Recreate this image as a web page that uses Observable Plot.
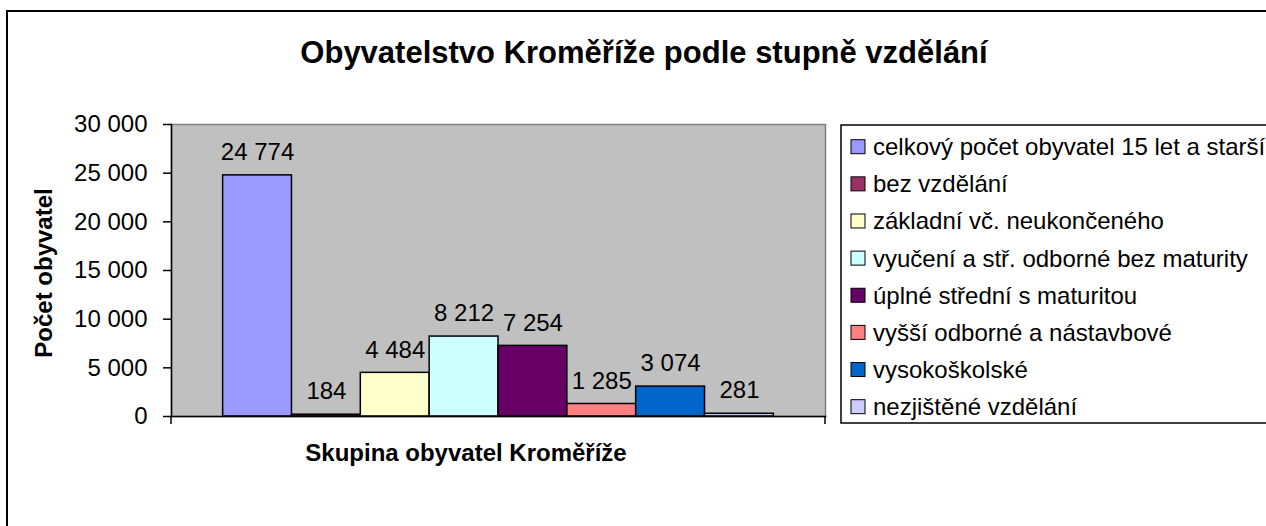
<!DOCTYPE html>
<html>
<head>
<meta charset="utf-8">
<script src="https://cdn.jsdelivr.net/npm/d3@7"></script>
<script src="https://cdn.jsdelivr.net/npm/@observablehq/plot@0.6"></script>
<style>
  html, body { margin: 0; padding: 0; background: #fff; }
  #wrap { position: relative; width: 1266px; height: 526px; overflow: hidden; background: #fff;
          font-family: "Liberation Sans", Arial, sans-serif; }
  #wrap > svg { position: absolute; left: 0; top: 0; }
</style>
</head>
<body>
<div id="wrap"></div>
<script>
const title = "Obyvatelstvo Kroměříže podle stupně vzdělání";
const yTitle = "Počet obyvatel";
const xTitle = "Skupina obyvatel Kroměříže";
const categories = [
  "celkový počet obyvatel 15 let a starší",
  "bez vzdělání",
  "základní vč. neukončeného",
  "vyučení a stř. odborné bez maturity",
  "úplné střední s maturitou",
  "vyšší odborné a nástavbové",
  "vysokoškolské",
  "nezjištěné vzdělání"
];
const values = [24774, 184, 4484, 8212, 7254, 1285, 3074, 281];
const colors = ["#9999FF", "#993366", "#FFFFCC", "#CCFFFF", "#660066", "#FF8080", "#0066CC", "#CCCCFF"];
const yTicks = [0, 5000, 10000, 15000, 20000, 25000, 30000];

const data = categories.map((c, i) => ({cat: c, value: values[i]}));
const fmt = d => d3.format(",")(d).replace(/,/g, "\u00a0");

const W = 1266, H = 526;
const chart = Plot.plot({
  width: W, height: H,
  marginLeft: 171, marginRight: 441, marginTop: 124, marginBottom: 110,
  style: {fontFamily: "'Liberation Sans', Arial, sans-serif", fontSize: "24px", color: "#000", background: "transparent"},
  x: {domain: categories, paddingInner: 0, paddingOuter: 0.75, round: false, axis: null},
  y: {domain: [0, 30000], axis: null},
  color: {domain: categories, range: colors},
  marks: [
    Plot.frame({fill: "#C0C0C0", stroke: "#808080", strokeWidth: 1.5}),
    Plot.barY(data, {x: "cat", y: "value", fill: "cat", stroke: "#000", strokeWidth: 1.5}),
    Plot.frame({anchor: "left", stroke: "#000", strokeWidth: 1.5}),
    Plot.frame({anchor: "bottom", stroke: "#000", strokeWidth: 1.5}),
    Plot.axisY({ticks: yTicks, tickSize: 8, tickPadding: 16, tickFormat: fmt, fontSize: 24,
                stroke: "#000", strokeWidth: 1.5, label: null}),
    Plot.text(data, {x: "cat", y: "value", text: d => fmt(d.value), dy: -23, fontSize: 24, fill: "#000"})
  ]
});
document.getElementById("wrap").appendChild(chart);

// Overlay: outer border, titles, axis end ticks, legend
const xr = chart.scale("x").range;
const y0 = chart.scale("y").apply(0);
const ov = d3.select("#wrap").append("svg").attr("width", W).attr("height", H)
  .style("font-family", "'Liberation Sans', Arial, sans-serif");

ov.append("rect").attr("x", 7).attr("y", 11).attr("width", W + 10).attr("height", H + 10)
  .attr("fill", "none").attr("stroke", "#000").attr("stroke-width", 2);

// category axis ticks at both ends
[xr[0], xr[1]].forEach(x => {
  ov.append("line").attr("x1", x).attr("x2", x).attr("y1", y0).attr("y2", y0 + 8)
    .attr("stroke", "#000").attr("stroke-width", 1.5);
});

ov.append("text").attr("x", 644).attr("y", 63).attr("text-anchor", "middle")
  .attr("font-size", 31).attr("font-weight", "bold").text(title);
ov.append("text").attr("x", 466).attr("y", 461).attr("text-anchor", "middle")
  .attr("font-size", 24).attr("font-weight", "bold").text(xTitle);
ov.append("text").attr("transform", "translate(52,273) rotate(-90)").attr("text-anchor", "middle")
  .attr("font-size", 24).attr("font-weight", "bold").text(yTitle);

// legend
const lg = ov.append("g");
lg.append("rect").attr("x", 841).attr("y", 125).attr("width", 460).attr("height", 298)
  .attr("fill", "#fff").attr("stroke", "#000").attr("stroke-width", 1.5);
categories.forEach((c, i) => {
  const cy = 146.7 + i * 37.14;
  lg.append("rect").attr("x", 851).attr("y", cy - 7).attr("width", 14).attr("height", 14)
    .attr("fill", colors[i]).attr("stroke", "#000").attr("stroke-width", 1);
  lg.append("text").attr("x", 873).attr("y", cy + 8.5).attr("font-size", 24).text(c);
});
</script>
</body>
</html>
